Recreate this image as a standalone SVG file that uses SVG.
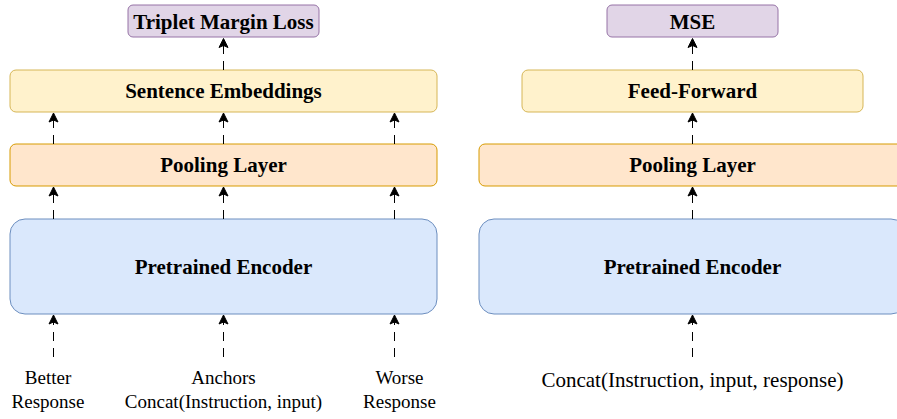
<svg xmlns="http://www.w3.org/2000/svg" width="897" height="419" viewBox="0 0 897 419">
<defs>
<style>
.lbl{font-family:"Liberation Serif","Times New Roman",serif;font-weight:bold;font-size:21px;fill:#000;text-anchor:middle}
.txt{font-family:"Liberation Serif","Times New Roman",serif;font-size:19px;fill:#000;text-anchor:middle}
.txt2{font-family:"Liberation Serif","Times New Roman",serif;font-size:21px;fill:#000;text-anchor:middle}
.purple{fill:#e1d5e7;stroke:#9673a6;stroke-width:1}
.yellow{fill:#fff2cc;stroke:#d6b656;stroke-width:1}
.orange{fill:#ffe6cc;stroke:#d79b00;stroke-width:1}
.blue{fill:#dae8fc;stroke:#6c8ebf;stroke-width:1}
.arr{stroke:#000;stroke-width:1;fill:none;stroke-dasharray:9 7;marker-end:url(#ah)}
</style>
<marker id="ah" markerUnits="userSpaceOnUse" markerWidth="12" markerHeight="12" viewBox="-11 -6 12 12" refX="0" refY="0" orient="auto">
<path d="M0,0 L-9,-4.5 L-7,0 L-9,4.5 Z" fill="#000" stroke="#000" stroke-width="1" stroke-linejoin="miter"/>
</marker>
</defs>

<g id="left-loss"><rect class="purple" x="128" y="5" width="191" height="32" rx="5"/><text class="lbl" x="223.5" y="28.5">Triplet Margin Loss</text></g>
<g id="left-embeddings"><rect class="yellow" x="10" y="70" width="427" height="42" rx="6"/><text class="lbl" x="223.5" y="98">Sentence Embeddings</text></g>
<g id="left-pooling"><rect class="orange" x="10" y="144" width="427" height="42" rx="6"/><text class="lbl" x="223.5" y="172">Pooling Layer</text></g>
<g id="left-encoder"><rect class="blue" x="10" y="219" width="427" height="95" rx="15"/><text class="lbl" x="223.5" y="274">Pretrained Encoder</text></g>
<g id="left-inputs">
<text class="txt" x="48" y="384">Better</text><text class="txt" x="48" y="408">Response</text>
<text class="txt" x="223.5" y="384">Anchors</text><text class="txt" x="223.5" y="408">Concat(Instruction, input)</text>
<text class="txt" x="399.5" y="384">Worse</text><text class="txt" x="399.5" y="408">Response</text>
</g>

<g id="right-loss"><rect class="purple" x="607" y="5" width="171" height="32" rx="5"/><text class="lbl" x="692.5" y="28.5">MSE</text></g>
<g id="right-ff"><rect class="yellow" x="522" y="70" width="341" height="42" rx="6"/><text class="lbl" x="692.5" y="98">Feed-Forward</text></g>
<g id="right-pooling"><rect class="orange" x="479" y="144" width="427" height="42" rx="6"/><text class="lbl" x="692.5" y="172">Pooling Layer</text></g>
<g id="right-encoder"><rect class="blue" x="479" y="219" width="427" height="95" rx="15"/><text class="lbl" x="692.5" y="274">Pretrained Encoder</text></g>
<g id="right-input"><text class="txt2" x="692.5" y="387">Concat(Instruction, input, response)</text></g>

<g id="connectors">
<line class="arr" x1="223.5" y1="70" x2="223.5" y2="38.5"/>
<line class="arr" x1="53.5" y1="144" x2="53.5" y2="113"/>
<line class="arr" x1="223.5" y1="144" x2="223.5" y2="113"/>
<line class="arr" x1="394.5" y1="144" x2="394.5" y2="113"/>
<line class="arr" x1="53.5" y1="219" x2="53.5" y2="187"/>
<line class="arr" x1="223.5" y1="219" x2="223.5" y2="187"/>
<line class="arr" x1="394.5" y1="219" x2="394.5" y2="187"/>
<line class="arr" x1="53.5" y1="357" x2="53.5" y2="315"/>
<line class="arr" x1="223.5" y1="357" x2="223.5" y2="315"/>
<line class="arr" x1="394.5" y1="357" x2="394.5" y2="315"/>
<line class="arr" x1="692.5" y1="70" x2="692.5" y2="38.5"/>
<line class="arr" x1="692.5" y1="144" x2="692.5" y2="113"/>
<line class="arr" x1="692.5" y1="219" x2="692.5" y2="187"/>
<line class="arr" x1="692.5" y1="357" x2="692.5" y2="315"/>
</g>
</svg>
